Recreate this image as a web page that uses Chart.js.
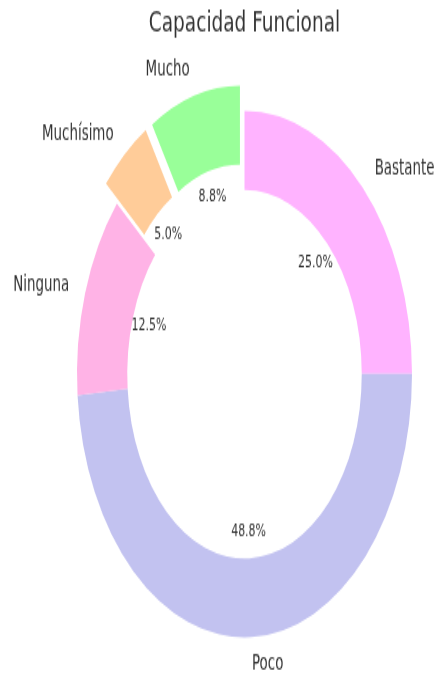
<!DOCTYPE html>
<html>
<head>
<meta charset="utf-8">
<script src="https://cdn.jsdelivr.net/npm/chart.js@4.4.1/dist/chart.umd.min.js"></script>
<style>
  html, body { margin: 0; padding: 0; background: #fff; }
  #page { width: 438px; height: 676px; position: relative; }
  #wrap { position: absolute; left: 0; top: 0; width: 438px; height: 430px; transform: scaleY(1.572); transform-origin: 0 0; }
</style>
</head>
<body>
<div id="page">
  <div id="wrap"><canvas id="pieChart1" width="438" height="430"></canvas></div>
</div>
<script>
const chartTitle = "Capacidad Funcional";
const categories = ["Bastante", "Poco", "Ninguna", "Muchísimo", "Mucho"];
const percentages = [25.0, 48.8, 12.5, 5.0, 8.8];
const sliceColors = ["#ffb3ff", "#c2c2f0", "#ffb3e6", "#ffcc99", "#99ff99"];
const explode = [0, 0, 0, 0.1, 0.1];

// labels + exploded slices, matplotlib style
const pieLabels = {
  id: "pieLabels",
  afterDatasetsUpdate(chart) {
    const meta = chart.getDatasetMeta(0);
    meta.data.forEach((arc, i) => {
      const mid = (arc.startAngle + arc.endAngle) / 2;
      const shift = explode[i] * arc.outerRadius;
      arc.x += Math.cos(mid) * shift;
      arc.y += Math.sin(mid) * shift;
    });
  },
  afterDatasetsDraw(chart) {
    const ctx = chart.ctx;
    const area = chart.chartArea;
    const cx = (area.left + area.right) / 2;
    const meta = chart.getDatasetMeta(0);
    ctx.save();
    ctx.fillStyle = "#333";
    ctx.textBaseline = "middle";
    meta.data.forEach((arc, i) => {
      const mid = (arc.startAngle + arc.endAngle) / 2;
      const r = arc.outerRadius;
      const lx = arc.x + Math.cos(mid) * r * 1.1;
      const ly = arc.y + Math.sin(mid) * r * 1.1;
      ctx.font = "13.4px 'DejaVu Sans'";
      ctx.textAlign = lx - cx > 0 ? "left" : "right";
      ctx.fillText(categories[i], lx, ly);

      ctx.font = "11px 'DejaVu Sans'";
      ctx.textAlign = "center";
      ctx.fillText(percentages[i].toFixed(1) + "%",
        arc.x + Math.cos(mid) * r * 0.6, arc.y + Math.sin(mid) * r * 0.6);
    });
    ctx.font = "18.5px 'DejaVu Sans'";
    ctx.textAlign = "center";
    ctx.fillText(chartTitle, cx, 15);
    ctx.restore();
  },
};

new Chart(document.getElementById("pieChart1").getContext("2d"), {
  type: "doughnut",
  data: {
    labels: categories,
    datasets: [
      {
        data: percentages,
        backgroundColor: sliceColors,
        borderWidth: 0,
      },
    ],
  },
  options: {
    responsive: false,
    animation: false,
    radius: 167.5,
    cutout: "70%",
    layout: { padding: { left: 51, top: 46, right: 0, bottom: 0 } },
    plugins: {
      legend: { display: false },
      tooltip: { enabled: false },
    },
  },
  plugins: [pieLabels],
});
</script>
</body>
</html>
